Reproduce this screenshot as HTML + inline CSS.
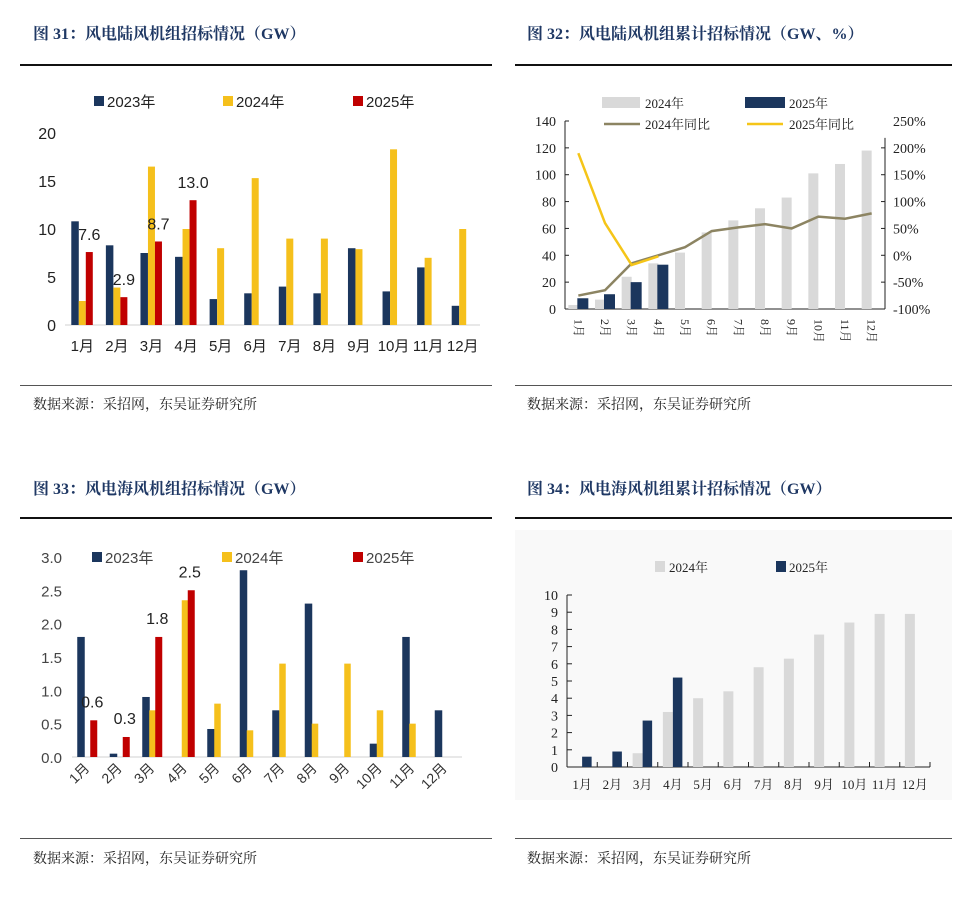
<!DOCTYPE html>
<html><head><meta charset="utf-8">
<style>
body{margin:0;width:956px;height:901px;background:#fff;position:relative;overflow:hidden;font-family:"Liberation Sans","Noto Sans CJK SC",sans-serif}
.t{position:absolute;font-family:"Liberation Serif","Noto Serif CJK SC",serif;font-weight:bold;font-size:16px;color:#1f3864;white-space:nowrap}
.s{position:absolute;font-family:"Liberation Serif","Noto Serif CJK SC",serif;font-size:14px;color:#222;white-space:nowrap}
.hl{position:absolute;height:2px;background:#111}
.bl{position:absolute;height:1px;background:#555}
svg{position:absolute;left:0;top:0}
</style></head><body>
<div class="t" style="left:33px;top:21px">图 31：风电陆风机组招标情况（GW）</div>
<div class="t" style="left:527px;top:21px">图 32：风电陆风机组累计招标情况（GW、%）</div>
<div class="t" style="left:33px;top:476px">图 33：风电海风机组招标情况（GW）</div>
<div class="t" style="left:527px;top:476px">图 34：风电海风机组累计招标情况（GW）</div>
<div class="hl" style="left:20px;top:64px;width:472px"></div>
<div class="hl" style="left:515px;top:64px;width:437px"></div>
<div class="hl" style="left:20px;top:517px;width:472px"></div>
<div class="hl" style="left:515px;top:517px;width:437px"></div>
<div class="bl" style="left:20px;top:385px;width:472px"></div>
<div class="bl" style="left:515px;top:385px;width:437px"></div>
<div class="bl" style="left:20px;top:838px;width:472px"></div>
<div class="bl" style="left:515px;top:838px;width:437px"></div>
<div class="s" style="left:33px;top:394px">数据来源：采招网，东吴证券研究所</div>
<div class="s" style="left:527px;top:394px">数据来源：采招网，东吴证券研究所</div>
<div class="s" style="left:33px;top:848px">数据来源：采招网，东吴证券研究所</div>
<div class="s" style="left:527px;top:848px">数据来源：采招网，东吴证券研究所</div>
<svg id="svg" width="956" height="901" xmlns="http://www.w3.org/2000/svg">
<rect x="515" y="530" width="437" height="270" fill="#f9f9f9"/>
</svg>
<script>
const months=['1月','2月','3月','4月','5月','6月','7月','8月','9月','10月','11月','12月'];
// chart 31
const c1_2023=[10.8,8.3,7.5,7.1,2.7,3.3,4.0,3.3,8.0,3.5,6.0,2.0];
const c1_2024=[2.5,3.9,16.5,10.0,8.0,15.3,9.0,9.0,7.9,18.3,7.0,10.0];
const c1_2025=[7.6,2.9,8.7,13.0];
const c1_ticks=[0,5,10,15,20];
// chart 32
const c2_cum2024=[3,7,24,34,42,57,66,75,83,101,108,118];
const c2_cum2025=[8,11,20,33];
const c2_yoy2024=[-75,-65,-15,0,15,45,52,58,50,72,68,78];
const c2_yoy2025=[190,60,-18,-2];
const c2_ticksL=[0,20,40,60,80,100,120,140];
const c2_ticksR=[-100,-50,0,50,100,150,200,250];
// chart 33
const c3_2023=[1.8,0.05,0.9,0,0.42,2.8,0.7,2.3,0,0.2,1.8,0.7];
const c3_2024=[0,0,0.7,2.35,0.8,0.4,1.4,0.5,1.4,0.7,0.5,0];
const c3_2025=[0.55,0.3,1.8,2.5];
const c3_ticks=[0,0.5,1.0,1.5,2.0,2.5,3.0];
// chart 34
const c4_2024=[0,0,0.8,3.2,4.0,4.4,5.8,6.3,7.7,8.4,8.9,8.9];
const c4_2025=[0.6,0.9,2.7,5.2];
const c4_ticks=[0,1,2,3,4,5,6,7,8,9,10];

const NS='http://www.w3.org/2000/svg',svg=document.getElementById('svg');
function el(tag,a,txt){const e=document.createElementNS(NS,tag);for(const k in a)e.setAttribute(k,a[k]);if(txt!==undefined)e.textContent=txt;svg.appendChild(e);return e;}
const NAVY='#1b365d',YEL='#f5c01c',RED='#c00000',GRAY='#d9d9d9';
const SANS='"Liberation Sans","Noto Sans CJK SC",sans-serif',SERIF='"Liberation Serif","Noto Serif CJK SC",serif';

// ---------- chart 31
(function(){
const x0=65,x1=480,y0=325,sc=9.6,w=(x1-x0)/12;
const y=v=>y0-v*sc,cx=i=>x0+w*(i+0.5);
let e=el('line',{x1:x0,x2:x1,y1:y0,y2:y0,stroke:'#d0d0d0'});

c1_ticks.forEach(t=>{e=el('text',{x:56,y:y(t)+6,'text-anchor':'end','font-size':16,fill:'#222','font-family':SANS},t);
});
months.forEach((m,i)=>{e=el('text',{x:cx(i),y:351,'text-anchor':'middle','font-size':15,fill:'#222','font-family':SANS},m);
});
c1_2023.forEach((v,i)=>{e=el('rect',{x:cx(i)-11,y:y(v),width:7.5,height:v*sc,fill:NAVY});
});
c1_2024.forEach((v,i)=>{e=el('rect',{x:cx(i)-3.5,y:y(v),width:7,height:v*sc,fill:YEL});
});
c1_2025.forEach((v,i)=>{e=el('rect',{x:cx(i)+3.5,y:y(v),width:7,height:v*sc,fill:RED});

e=el('text',{x:cx(i)+7,y:y(v)-12,'text-anchor':'middle','font-size':16,fill:'#222','font-family':SANS},v.toFixed(1));
});
[['2023年',NAVY,94],['2024年',YEL,223],['2025年',RED,353]].forEach(([t,c,lx])=>{
e=el('rect',{x:lx,y:96,width:10,height:10,fill:c});
e=el('text',{x:lx+13,y:107,'font-size':15,fill:'#222','font-family':SANS},t);});
})();

// ---------- chart 32
(function(){
const x0=565,x1=885,y0=309,yt=121,w=(x1-x0)/12;
const yl=v=>y0-(v/140)*(y0-yt),yr=v=>y0-((v+100)/350)*(y0-yt),cx=i=>x0+w*(i+0.5);
let e;
e=el('line',{x1:x0,x2:x0,y1:yt,y2:y0,stroke:'#222'});
e=el('line',{x1:x1,x2:x1,y1:yr(200)-10,y2:y0,stroke:'#222'});
e=el('line',{x1:x0,x2:x1,y1:y0,y2:y0,stroke:'#222'});
c2_ticksL.forEach(t=>{el('line',{x1:x0,x2:x0+4,y1:yl(t),y2:yl(t),stroke:'#222'});
e=el('text',{x:556,y:yl(t)+5,'text-anchor':'end','font-size':14,fill:'#222','font-family':SERIF},t);});
c2_ticksR.forEach(t=>{if(t<250)el('line',{x1:x1-4,x2:x1,y1:yr(t),y2:yr(t),stroke:'#222'});
e=el('text',{x:893,y:yr(t)+5,'font-size':14,fill:'#222','font-family':SERIF},t+'%');});
months.forEach((m,i)=>{e=el('text',{x:0,y:0,'font-size':12,fill:'#222','font-family':SERIF,transform:`translate(${cx(i)-4},${y0+10}) rotate(90)`},m);
});
c2_cum2024.forEach((v,i)=>{e=el('rect',{x:cx(i)-10,y:yl(v),width:10,height:y0-yl(v),fill:GRAY});
});
c2_cum2025.forEach((v,i)=>{e=el('rect',{x:cx(i)-1,y:yl(v),width:11,height:y0-yl(v),fill:NAVY});
});
e=el('polyline',{points:c2_yoy2024.map((v,i)=>cx(i)+','+yr(v)).join(' '),fill:'none',stroke:'#8c8462','stroke-width':2.5});

e=el('polyline',{points:c2_yoy2025.map((v,i)=>cx(i)+','+yr(v)).join(' '),fill:'none',stroke:'#f5c518','stroke-width':2.5});

e=el('rect',{x:602,y:97,width:38,height:11,fill:GRAY});
e=el('text',{x:645,y:108,'font-size':13,fill:'#222','font-family':SERIF},'2024年');
e=el('rect',{x:745,y:97,width:40,height:11,fill:NAVY});
e=el('text',{x:789,y:108,'font-size':13,fill:'#222','font-family':SERIF},'2025年');
e=el('line',{x1:604,x2:640,y1:124,y2:124,stroke:'#8c8462','stroke-width':2.5});
e=el('text',{x:645,y:129,'font-size':13,fill:'#222','font-family':SERIF},'2024年同比');
e=el('line',{x1:747,x2:783,y1:124,y2:124,stroke:'#f5c518','stroke-width':2.5});
e=el('text',{x:789,y:129,'font-size':13,fill:'#222','font-family':SERIF},'2025年同比');
})();

// ---------- chart 33
(function(){
const x0=72,x1=462,y0=757,sc=66.7,w=(x1-x0)/12;
const y=v=>y0-v*sc,cx=i=>x0+w*(i+0.5);
let e=el('line',{x1:x0,x2:x1,y1:y0,y2:y0,stroke:'#d0d0d0'});
c3_ticks.forEach(t=>{e=el('text',{x:62,y:y(t)+6,'text-anchor':'end','font-size':15,fill:'#444','font-family':SANS},t.toFixed(1));
});
months.forEach((m,i)=>{e=el('text',{x:0,y:0,'text-anchor':'end','font-size':14,fill:'#333','font-family':SANS,transform:`translate(${cx(i)+2},${y0+12}) rotate(-45)`},m);
});
c3_2023.forEach((v,i)=>{e=el('rect',{x:cx(i)-11,y:y(v),width:7.5,height:v*sc,fill:NAVY});});
c3_2024.forEach((v,i)=>{e=el('rect',{x:cx(i)-4,y:y(v),width:6.5,height:v*sc,fill:YEL});});
c3_2025.forEach((v,i)=>{e=el('rect',{x:cx(i)+2,y:y(v),width:7,height:v*sc,fill:RED});
e=el('text',{x:cx(i)+4,y:y(v)-13,'text-anchor':'middle','font-size':16,fill:'#222','font-family':SANS},v.toFixed(1));
});
[['2023年',NAVY,92],['2024年',YEL,222],['2025年',RED,353]].forEach(([t,c,lx])=>{
e=el('rect',{x:lx,y:552,width:10,height:10,fill:c});
e=el('text',{x:lx+13,y:563,'font-size':15,fill:'#444','font-family':SANS},t);});
})();

// ---------- chart 34
(function(){
const x0=567,x1=930,y0=767,sc=17.2,w=(x1-x0)/12;
const y=v=>y0-v*sc,cx=i=>x0+w*(i+0.5);
let e;
e=el('line',{x1:x0,x2:x0,y1:y(10),y2:y0,stroke:'#222'});
e=el('line',{x1:x0,x2:x1,y1:y0,y2:y0,stroke:'#222'});
for(let i=0;i<=12;i++)el('line',{x1:x0+w*i,x2:x0+w*i,y1:y0-5,y2:y0,stroke:'#222'});
c4_ticks.forEach(t=>{el('line',{x1:x0,x2:x0+5,y1:y(t),y2:y(t),stroke:'#222'});
e=el('text',{x:558,y:y(t)+5,'text-anchor':'end','font-size':14,fill:'#222','font-family':SERIF},t);
});
months.forEach((m,i)=>{e=el('text',{x:cx(i),y:789,'text-anchor':'middle','font-size':13,fill:'#222','font-family':SERIF},m);
});
c4_2024.forEach((v,i)=>{e=el('rect',{x:cx(i)-10,y:y(v),width:10,height:v*sc,fill:GRAY});});
c4_2025.forEach((v,i)=>{e=el('rect',{x:cx(i),y:y(v),width:9.5,height:v*sc,fill:NAVY});});
e=el('rect',{x:655,y:561,width:10,height:11,fill:GRAY});
e=el('text',{x:669,y:572,'font-size':13,fill:'#222','font-family':SERIF},'2024年');
e=el('rect',{x:776,y:561,width:10,height:11,fill:NAVY});
e=el('text',{x:789,y:572,'font-size':13,fill:'#222','font-family':SERIF},'2025年');
})();
</script>
</body></html>
